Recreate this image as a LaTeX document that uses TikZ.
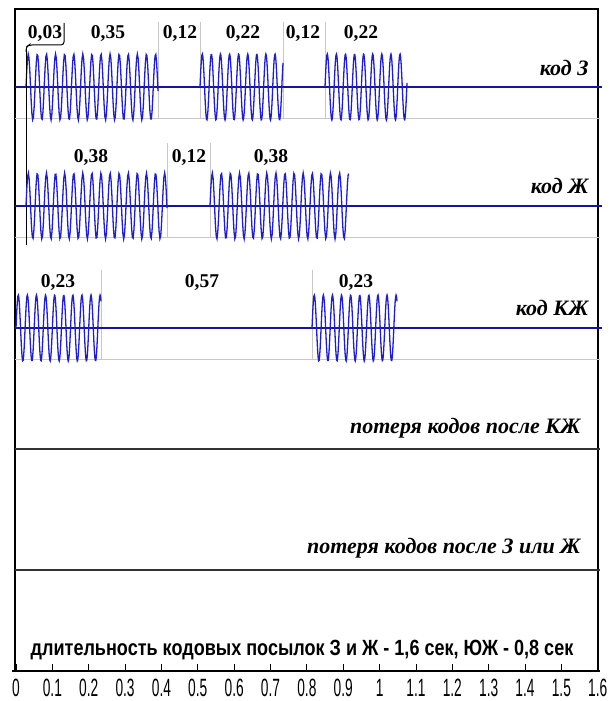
\documentclass[tikz,border=0pt]{standalone}
\usepackage{fontspec}
\setmainfont{Liberation Serif}
\newfontfamily\axisfont[FakeStretch=0.55]{Liberation Sans}
\newfontfamily\notefont[FakeStretch=0.82]{Liberation Sans}
\usetikzlibrary{positioning}

\definecolor{wavecol}{RGB}{30,30,205}
\definecolor{basecol}{RGB}{20,20,160}

% one burst of the carrier: baseline y, start x, end x
\newcommand{\burst}[3]{%
  \draw[wave] plot[domain=#2:#3, samples=180] (\x, {#1-33*sin((\x-#2)*39.6)});}

\begin{document}
\begin{tikzpicture}[
  x=1pt, y=-1pt,
  wave/.style={draw=wavecol, line width=1.3pt},
  base/.style={draw=basecol, line width=1.4pt},
  sep/.style={draw=black!22, line width=0.8pt},
  rule/.style={draw=black!80, line width=1.4pt},
  dur/.style={font=\fontsize{19.5}{22}\selectfont\bfseries, anchor=base},
  code/.style={font=\fontsize{22}{26}\selectfont\bfseries\itshape, anchor=base east},
  tick/.style={font=\axisfont\fontsize{25}{28}\selectfont, anchor=base}
]
\useasboundingbox (0,0) rectangle (610,701);

% frame
\draw[line width=1.2pt] (15,671) -- (15,9) -- (598,9) -- (598,671);
\draw[sep] (15,118) -- (600,118);
\draw[sep] (15,237) -- (600,237);
\draw[sep] (15,359) -- (600,359);
\draw[rule] (15,449) -- (600,449);
\draw[rule] (15,570) -- (600,570);

% code 3
\draw[sep] (158,22) -- (158,118);
\draw[sep] (200,22) -- (200,118);
\draw[sep] (283,22) -- (283,118);
\draw[sep] (325,22) -- (325,118);
\draw[base] (15,87) -- (602,87);
\burst{87}{26}{158}
\burst{87}{200}{283}
\burst{87}{325}{407}
\draw[line width=1pt] (26,245) -- (26,49);
\draw[line width=1pt, rounded corners=3pt] (26,52) -- (26,47) -- (29,45) -- (64,45) -- (64,23);
\node[dur] (d1) at (45,38)  {0,03};
\node[dur] (d2) at (108,38) {0,35};
\node[dur] (d3) at (180,38) {0,12};
\node[dur] (d4) at (243,38) {0,22};
\node[dur] (d5) at (303,38) {0,12};
\node[dur] (d6) at (361,38) {0,22};
\node[code] (k1) at (592,75) {код З};

% code Zh
\draw[sep] (167,143) -- (167,237);
\draw[sep] (210,143) -- (210,237);
\draw[base] (15,206) -- (602,206);
\burst{206}{26}{167}
\burst{206}{210}{349}
\node[dur] (e1) at (91,162)  {0,38};
\node[dur] (e2) at (189,162) {0,12};
\node[dur] (e3) at (271,162) {0,38};
\node[code] (k2) at (592,193) {код Ж};

% code KZh
\draw[sep] (101,270) -- (101,359);
\draw[sep] (312,270) -- (312,359);
\draw[base] (15,328) -- (602,328);
\burst{328}{16}{101}
\burst{328}{312}{397}
\node[dur] (f1) at (58,287)  {0,23};
\node[dur] (f2) at (202,287) {0,57};
\node[dur] (f3) at (356,287) {0,23};
\node[code] (k3) at (592,315) {код КЖ};

% losses
\node[code] (p1) at (584,433) {потеря кодов после КЖ};
\node[code] (p2) at (584,553) {потеря кодов после З или Ж};

% time axis
\node[font=\notefont\bfseries\fontsize{22}{25}\selectfont, anchor=base] (note) at (302,655)
  {длительность кодовых посылок З и Ж - 1,6 сек, ЮЖ - 0,8 сек};
\draw[line width=1.2pt] (12,671) -- (600,671);
\foreach \t/\lab in {0/0,1/0.1,2/0.2,3/0.3,4/0.4,5/0.5,6/0.6,7/0.7,8/0.8,9/0.9,
                     10/1,11/1.1,12/1.2,13/1.3,14/1.4,15/1.5,16/1.6}{
  \draw[line width=0.9pt] ({16+36.36*\t},664) -- ({16+36.36*\t},671);
  \node[tick] (t\t) at ({16+36.36*\t},696) {\lab};
}
\end{tikzpicture}
\end{document}
